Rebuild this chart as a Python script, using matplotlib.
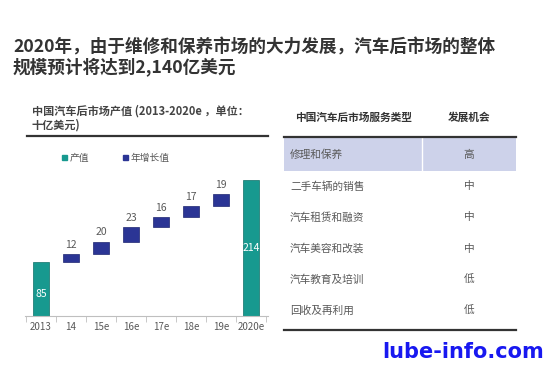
import matplotlib
matplotlib.use("Agg")
import matplotlib.pyplot as plt
import numpy as np

plt.rcParams['font.family'] = ['Noto Sans CJK SC', 'DejaVu Sans']

years = ['2013', '14', '15e', '16e', '17e', '18e', '19e', '2020e']
start_value = 85
increments = [12, 20, 23, 16, 17, 19]
end_value = 214

services = ['修理和保养', '二手车辆的销售', '汽车租赁和融资', '汽车美容和改装', '汽车教育及培训', '回收及再利用']
chances = ['高', '中', '中', '中', '低', '低']

TEAL = '#17998f'
NAVY = '#2b3595'
GREY = '#595959'

W, H = 547, 367
fig = plt.figure(figsize=(W / 100, H / 100), dpi=100)

# overlay axes in pixel coordinates for titles / table
bg = fig.add_axes([0, 0, 1, 1])
bg.set_xlim(0, W)
bg.set_ylim(H, 0)
bg.axis('off')

bg.text(13, 47, '2020年，由于维修和保养市场的大力发展，汽车后市场的整体', fontsize=12.7,
        fontweight='bold', color='#333333', va='center')
bg.text(13, 67, '规模预计将达到2,140亿美元', fontsize=12.7,
        fontweight='bold', color='#333333', va='center')

bg.text(32, 111, '中国汽车后市场产值 (2013-2020e ，单位：', fontsize=8,
        fontweight='bold', color='#444444', va='center')
bg.text(32, 125, '十亿美元)', fontsize=8, fontweight='bold', color='#444444', va='center')
bg.plot([27, 268], [136, 136], color='#333333', lw=1.6)

# legend
bg.add_patch(plt.Rectangle((62, 155), 5, 5, color=TEAL))
bg.text(70, 158, '产值', fontsize=7, color=GREY, va='center')
bg.add_patch(plt.Rectangle((123, 155), 5, 5, color=NAVY))
bg.text(131, 158, '年增长值', fontsize=7, color=GREY, va='center')

# table
bg.text(353, 118, '中国汽车后市场服务类型', fontsize=7.7, fontweight='bold',
        color='#333333', ha='center', va='center')
bg.text(469, 118, '发展机会', fontsize=7.7, fontweight='bold',
        color='#333333', ha='center', va='center')
bg.add_patch(plt.Rectangle((284, 137), 232, 34, color='#cdd2ea', lw=0))
bg.plot([422, 422], [137, 171], color='white', lw=1)
bg.plot([284, 516], [137, 137], color='#333333', lw=1.6)
row_y = np.linspace(155, 311, len(services))
for y, s, c in zip(row_y, services, chances):
    bg.text(290, y, s, fontsize=7.7, color=GREY, va='center')
    bg.text(469, y, c, fontsize=7.7, color=GREY, ha='center', va='center')
bg.plot([284, 516], [330, 330], color='#333333', lw=1.6)

bg.text(463, 352, 'lube-info.com', fontsize=15, fontweight='bold', color='#1818f0',
        family='DejaVu Sans', ha='center', va='center')

# waterfall chart
ax = fig.add_axes([24.5 / W, 51 / H, 243 / W, 152.6 / H])
x = np.arange(len(years))
bw = 0.53
cum = start_value + np.concatenate([[0], np.cumsum(increments)])
ax.bar(x[0], start_value, width=bw, color=TEAL, edgecolor='#0f7068', lw=0.5)
ax.bar(x[-1], end_value, width=bw, color=TEAL, edgecolor='#0f7068', lw=0.5)
ax.bar(x[1:-1], increments, bottom=cum[:-1], width=bw, color=NAVY, edgecolor='#1d2570', lw=0.5)
for xi, b, v in zip(x[1:-1], cum[:-1], increments):
    ax.annotate(str(v), (xi, b + v), xytext=(0, 3), textcoords='offset points',
                ha='center', va='bottom', fontsize=7.5, color=GREY)
ax.text(x[0], start_value * 0.4, str(start_value), ha='center', va='center',
        fontsize=7.5, color='white')
ax.text(x[-1], end_value * 0.5, str(end_value), ha='center', va='center',
        fontsize=7.5, color='white')

ax.set_xlim(-0.55, 7.55)
ax.set_ylim(0, 240)
ax.set_xticks(x)
ax.set_xticklabels(years, fontsize=7, color=GREY)
ax.tick_params(axis='x', length=0, pad=4)
ax.set_xticks(np.arange(-0.5, 8, 1), minor=True)
ax.tick_params(axis='x', which='minor', length=4, color='#bfbfbf', direction='out')
ax.set_yticks([])
for s in ['top', 'right', 'left']:
    ax.spines[s].set_visible(False)
ax.spines['bottom'].set_color('#bfbfbf')
ax.patch.set_alpha(0)

fig.savefig('out.png', dpi=100, facecolor='white')
